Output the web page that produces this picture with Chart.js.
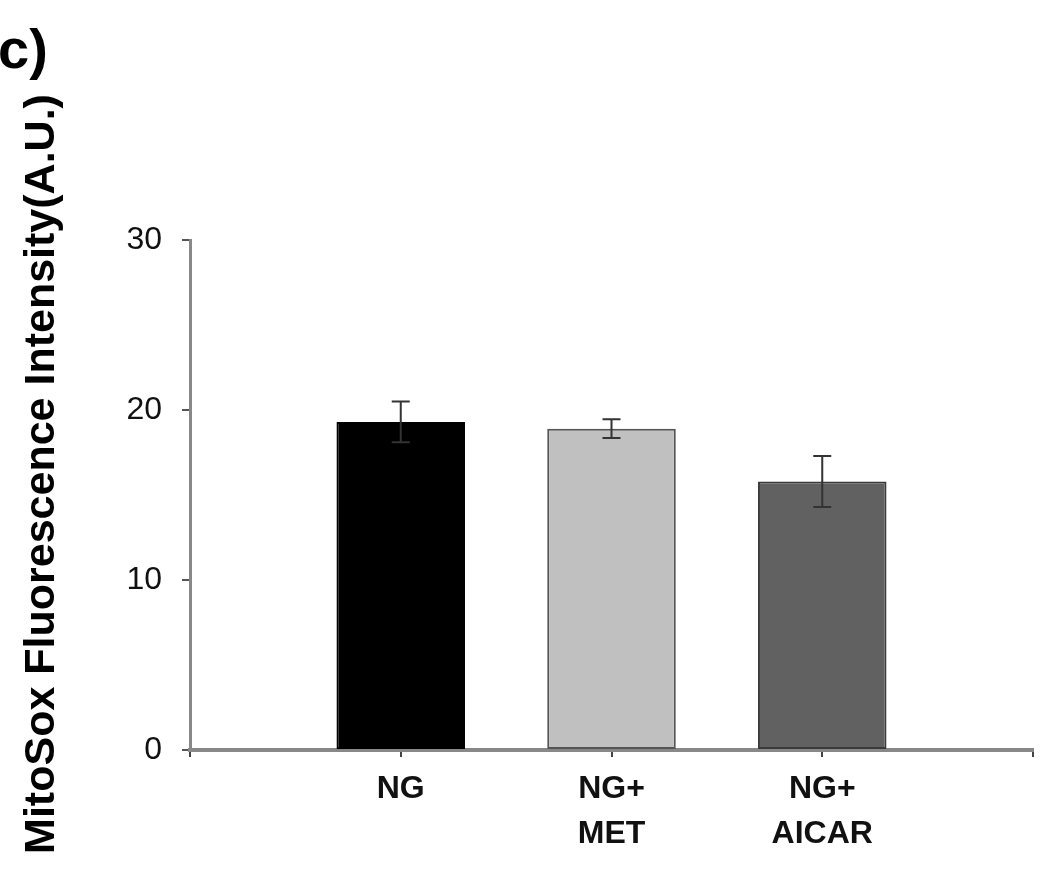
<!DOCTYPE html>
<html>
<head>
<meta charset="utf-8">
<script src="https://cdn.jsdelivr.net/npm/chart.js@4"></script>
<style>
  html, body { margin: 0; padding: 0; background: #fff; }
  #wrap { width: 1050px; height: 884px; }
</style>
</head>
<body>
<div id="wrap"><canvas id="myChart" width="1050" height="884"></canvas></div>
<script>
// blank first/last slots keep the empty space on both sides of the bars
const categories = ['', 'NG', ['NG+', 'MET'], ['NG+', 'AICAR'], ''];
const values = [null, 19.3, 18.9, 15.8, null];
const errors = [null, 1.2, 0.55, 1.5, null];
const yTicks = [0, 10, 20, 30];
const panelLabel = 'c)';
const yTitle = 'MitoSox Fluorescence Intensity(A.U.)';

const fillColors = ['#000000', '#000000', '#c0c0c0', '#616161', '#000000'];
const borderColors = ['#000000', '#000000', '#555555', '#3a3a3a', '#000000'];

const FONT = '"Liberation Sans", Arial, sans-serif';

// error bars drawn from the y scale
const errorBars = {
    id: 'errorBars',
    afterDatasetsDraw(chart) {
        const ctx = chart.ctx;
        const meta = chart.getDatasetMeta(0);
        const y = chart.scales.y;
        ctx.save();
        ctx.strokeStyle = '#333333';
        ctx.lineWidth = 2;
        meta.data.forEach((bar, i) => {
            if (values[i] == null || errors[i] == null) return;
            const top = y.getPixelForValue(values[i] + errors[i]);
            const bottom = y.getPixelForValue(values[i] - errors[i]);
            const cap = 9;
            ctx.beginPath();
            ctx.moveTo(bar.x, top);
            ctx.lineTo(bar.x, bottom);
            ctx.moveTo(bar.x - cap, top);
            ctx.lineTo(bar.x + cap, top);
            ctx.moveTo(bar.x - cap, bottom);
            ctx.lineTo(bar.x + cap, bottom);
            ctx.stroke();
        });
        ctx.restore();
    }
};

// panel letter and the y title (not centred on the plot area in the original)
const extraText = {
    id: 'extraText',
    afterDraw(chart) {
        const ctx = chart.ctx;
        ctx.save();
        ctx.fillStyle = '#000';
        ctx.font = 'bold 56px ' + FONT;
        ctx.textAlign = 'left';
        ctx.textBaseline = 'alphabetic';
        ctx.fillText(panelLabel, -2, 68);

        ctx.translate(42, 474);
        ctx.rotate(-Math.PI / 2);
        ctx.font = 'bold 43px ' + FONT;
        ctx.textAlign = 'center';
        ctx.textBaseline = 'middle';
        ctx.fillText(yTitle, 0, 0);
        ctx.restore();
    }
};

const ctx = document.getElementById('myChart').getContext('2d');
new Chart(ctx, {
    type: 'bar',
    data: {
        labels: categories,
        datasets: [{
            data: values,
            backgroundColor: fillColors,
            borderColor: borderColors,
            borderWidth: 2,
            borderSkipped: false,
            barPercentage: 1,
            categoryPercentage: 0.61
        }]
    },
    options: {
        responsive: false,
        animation: false,
        layout: { padding: { top: 240, right: 17, bottom: 0, left: 0 } },
        plugins: {
            legend: { display: false },
            tooltip: { enabled: false }
        },
        scales: {
            x: {
                offset: false,
                afterFit: (scale) => { scale.height = 134; },
                border: { color: '#888888', width: 4 },
                grid: { offset: false, drawOnChartArea: false, drawTicks: true, tickLength: 7, color: '#444444', lineWidth: 2 },
                ticks: {
                    color: '#111',
                    padding: 10,
                    maxRotation: 0,
                    autoSkip: false,
                    font: { family: FONT, size: 32, weight: 'bold', lineHeight: 1.4 }
                }
            },
            y: {
                min: 0,
                max: 30,
                afterFit: (scale) => { scale.width = 190; },
                afterBuildTicks: (scale) => { scale.ticks = yTicks.map(v => ({ value: v })); },
                border: { color: '#888888', width: 3 },
                grid: { drawOnChartArea: false, drawTicks: true, tickLength: 8, color: '#555555', lineWidth: 2 },
                ticks: {
                    color: '#111',
                    padding: 20,
                    font: { family: FONT, size: 32 }
                }
            }
        }
    },
    plugins: [errorBars, extraText]
});
</script>
</body>
</html>
